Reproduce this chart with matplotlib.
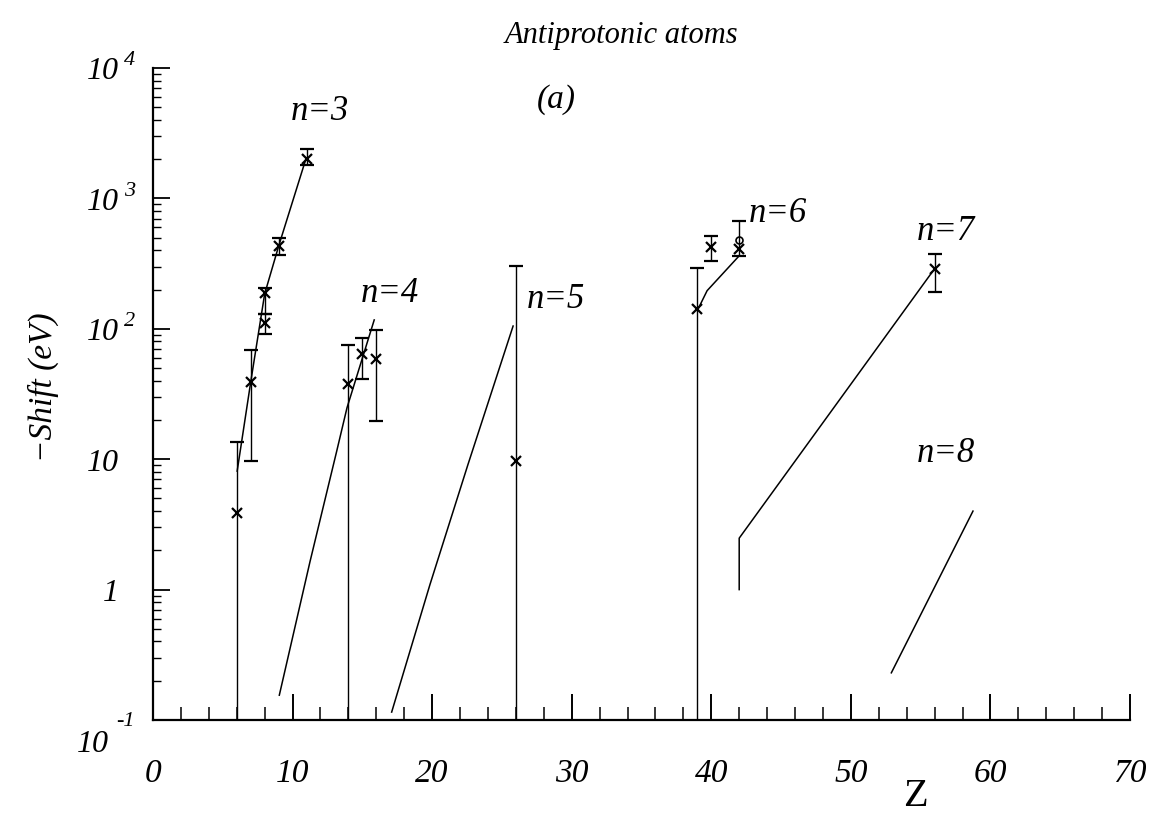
import numpy as np
import matplotlib
matplotlib.use("Agg")
import matplotlib.pyplot as plt
import matplotlib.transforms as mtransforms
from matplotlib.ticker import MultipleLocator, LogLocator, NullFormatter, FixedLocator

plt.rcParams['font.family'] = ['Liberation Serif', 'DejaVu Serif']

# ---------------- data ----------------
# measured points: Z, value, lower error bound, upper error bound
n3_Z = [6, 7, 8, 8, 9, 11]
n3_val = [3.9, 39, 187, 111, 435, 2020]
n3_lo = [0.05, 9.7, 130, 91, 365, 1790]
n3_hi = [13.6, 69, 206, 130, 500, 2380]

n4_Z = [14, 15, 16]
n4_val = [37.6, 64.6, 59]
n4_lo = [0.05, 41.5, 19.6]
n4_hi = [75, 85, 98]

n5_Z = [26]
n5_val = [9.7]
n5_lo = [0.05]
n5_hi = [305]

n6_Z = [39, 40, 42]
n6_val = [141, 422, 412]
n6_lo = [0.05, 333, 363]
n6_hi = [293, 518, 670]
n6_circle_Z = [42]
n6_circle_val = [480]

n7_Z = [56]
n7_val = [288]
n7_lo = [191]
n7_hi = [376]

# calculated curves
n3_line_Z = [6.03, 7, 8, 9, 10.95]
n3_line_val = [8.1, 39, 185, 430, 2000]
n4_line_Z = [9.05, 11.25, 13.16, 13.9, 15.85]
n4_line_val = [0.155, 1.64, 11.5, 24.8, 117]
n5_line_Z = [17.1, 19.84, 22.56, 25.8]
n5_line_val = [0.115, 1.09, 9.06, 105]
n6_line_Z = [39, 39.7, 42]
n6_line_val = [138, 196, 363]
n7_line_Z = [42, 42, 55.8]
n7_line_val = [1.0, 2.48, 270]
n8_line_Z = [52.9, 58.75]
n8_line_val = [0.23, 4.0]

x_ticks = [0, 10, 20, 30, 40, 50, 60, 70]
x_ticklabels = ["0", "10", "20", "30", "40", "50", "60", "70"]
y_ticks = [1e4, 1e3, 1e2, 10, 1, 0.1]
y_base = ["10", "10", "10", "10", "1", "10"]
y_exp = ["4", "3", "2", "", "", "-1"]

series_labels = ["n=3", "n=4", "n=5", "n=6", "n=7", "n=8"]
label_px = [(320, 111), (390, 293), (556, 300), (778, 213), (946, 232), (946, 453)]

# ---------------- figure ----------------
W, H = 1165, 816
fig = plt.figure(figsize=(W / 100, H / 100), dpi=100)
fig.patch.set_facecolor("white")
ax = fig.add_axes([153 / W, 1 - 720 / H, (1130 - 153) / W, (720 - 68) / H])
ax.set_yscale("log")
ax.set_xlim(0, 70)
ax.set_ylim(0.1, 1e4)

for s in ["top", "right"]:
    ax.spines[s].set_visible(False)
for s in ["left", "bottom"]:
    ax.spines[s].set_linewidth(1.6)
    ax.spines[s].set_color("black")

lw = 1.1
def errs(val, lo, hi):
    v = np.array(val, float)
    return np.vstack([v - np.array(lo, float), np.array(hi, float) - v])

for Z, val, lo, hi in [(n3_Z, n3_val, n3_lo, n3_hi), (n4_Z, n4_val, n4_lo, n4_hi),
                       (n5_Z, n5_val, n5_lo, n5_hi), (n6_Z, n6_val, n6_lo, n6_hi),
                       (n7_Z, n7_val, n7_lo, n7_hi)]:
    ax.errorbar(Z, val, yerr=errs(val, lo, hi), fmt='x', color='black', ms=7, mew=1.6,
                elinewidth=1.0, capsize=5, capthick=1.4, clip_on=True)

ax.plot(n6_circle_Z, n6_circle_val, 'o', mfc='none', mec='black', ms=5, mew=1.2)

for Z, val in [(n3_line_Z, n3_line_val), (n4_line_Z, n4_line_val), (n5_line_Z, n5_line_val),
               (n6_line_Z, n6_line_val), (n7_line_Z, n7_line_val), (n8_line_Z, n8_line_val)]:
    ax.plot(Z, val, '-', color='black', lw=lw)

# ticks
ax.xaxis.set_major_locator(FixedLocator(x_ticks))
ax.xaxis.set_minor_locator(MultipleLocator(2))
ax.set_xticklabels(x_ticklabels)
ax.tick_params(axis='x', which='major', direction='in', length=19, width=1.4, pad=28,
               labelsize=24)
ax.tick_params(axis='x', which='minor', direction='in', length=9.5, width=1.1)
for t in ax.get_xticklabels():
    t.set_fontstyle('italic')

ax.yaxis.set_major_locator(FixedLocator(y_ticks))
ax.yaxis.set_minor_locator(LogLocator(base=10, subs=np.arange(2, 10)))
ax.yaxis.set_major_formatter(NullFormatter())
ax.yaxis.set_minor_formatter(NullFormatter())
ax.tick_params(axis='y', which='major', direction='in', length=12, width=1.3)
ax.tick_params(axis='y', which='minor', direction='in', length=6, width=1.0)

# y tick labels (base + superscript)
trans = mtransforms.blended_transform_factory(fig.transFigure, ax.transData)
for v, b, e in zip(y_ticks, y_base, y_exp):
    if e == "-1":
        bx, by, ex, ey = 109, -25, 116, -2
    else:
        bx, by, ex, ey = 119, -4, 124, 7
    tb = mtransforms.offset_copy(trans, fig=fig, y=by * 0.72, units='points')
    ax.text(bx / W, v, b, transform=tb, ha='right', va='center', fontsize=23,
            style='italic', clip_on=False)
    if e:
        te = mtransforms.offset_copy(trans, fig=fig, y=ey * 0.72, units='points')
        ax.text(ex / W, v, e, transform=te, ha='left', va='center', fontsize=16,
                style='italic', clip_on=False)

# annotations
for lab, (px, py) in zip(series_labels, label_px):
    fig.text(px / W, 1 - py / H, lab, ha='center', va='center', fontsize=25, style='italic')

fig.text(621 / W, 1 - 36 / H, "Antiprotonic atoms", ha='center', va='center', fontsize=22, style='italic')
fig.text(556 / W, 1 - 100 / H, "(a)", ha='center', va='center', fontsize=24, style='italic')
fig.text(915 / W, 1 - 797 / H, "Z", ha='center', va='center', fontsize=29)
fig.text(43 / W, 1 - 387 / H, "\u2212Shift (eV)", ha='center', va='center', fontsize=24,
         style='italic', rotation=90)

fig.savefig("out.png", dpi=100, facecolor="white")
